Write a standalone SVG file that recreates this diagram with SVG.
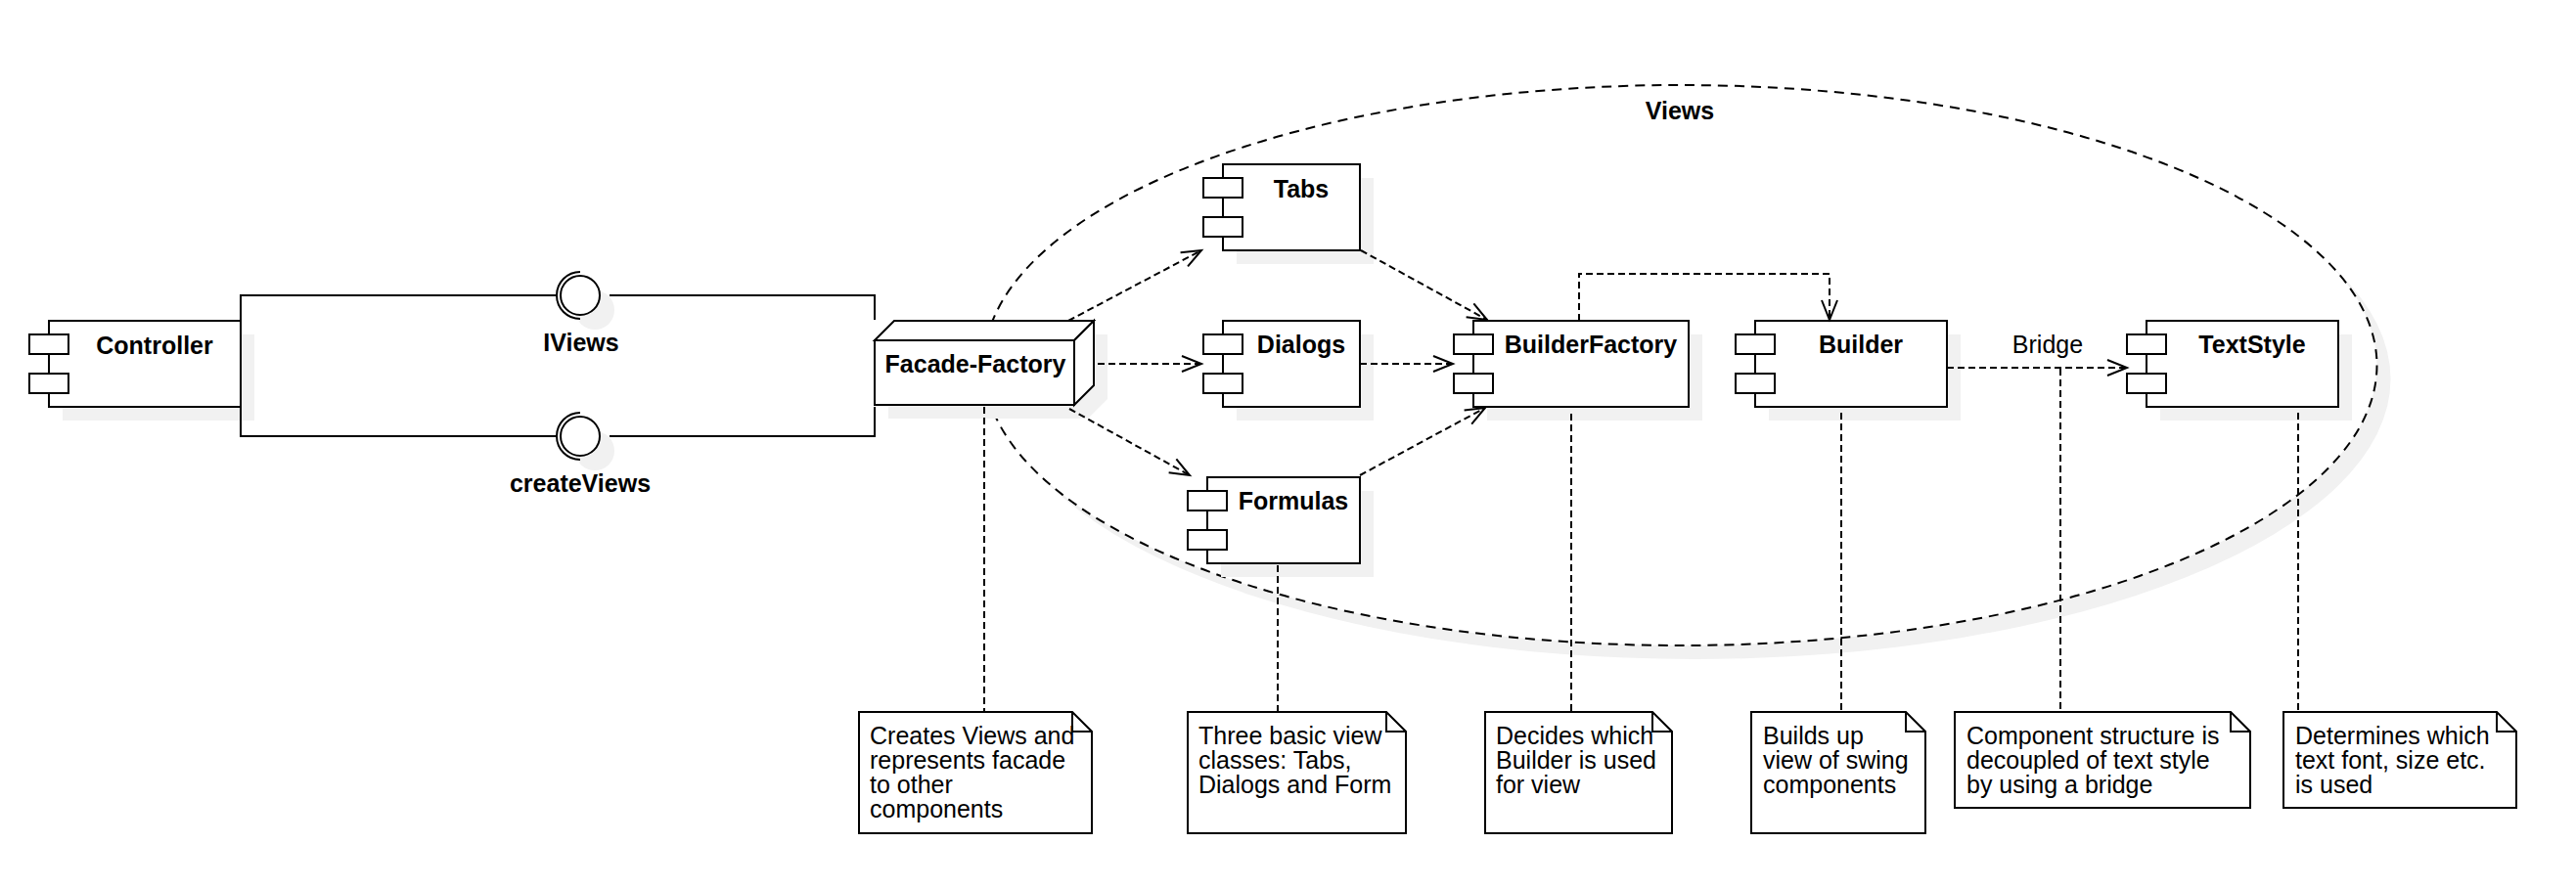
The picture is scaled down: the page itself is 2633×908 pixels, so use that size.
<svg xmlns="http://www.w3.org/2000/svg" width="2633" height="908" viewBox="0 0 2633 908">
<defs>
<style>
.ln{fill:none;stroke:#000;stroke-width:2}
.box{fill:#fff;stroke:#000;stroke-width:2}
.sh{fill:#f1f1f1;stroke:none}
.dash{fill:none;stroke:#000;stroke-width:2;stroke-dasharray:7 4}
.lbl{font-family:"Liberation Sans",Arial,sans-serif;font-size:25px;font-weight:bold;text-anchor:middle;fill:#000}
.txt{font-family:"Liberation Sans",Arial,sans-serif;font-size:25px;fill:#000}
</style>
<marker id="open" markerUnits="userSpaceOnUse" markerWidth="26" markerHeight="22" viewBox="-23 -11 26 22" refX="0" refY="0" orient="auto">
<path d="M-20,-8 L0,0 L-20,8" fill="none" stroke="#000" stroke-width="2" stroke-dasharray="none"/>
</marker>
</defs>
<rect x="0" y="0" width="2633" height="908" fill="#fff"/>

<g id="views">
<ellipse cx="1731.5" cy="387.5" rx="712" ry="286.5" fill="#f1f1f1"/>
<ellipse cx="1717.5" cy="373.5" rx="712" ry="286.5" fill="#fff" stroke="#000" stroke-width="2" stroke-dasharray="10 7"/>
<text class="lbl" x="1717" y="122">Views</text>
</g>

<g id="controller">
<rect class="sh" x="64" y="342" width="196" height="88"/>
<rect class="box" x="50" y="328" width="196" height="88"/>
<rect class="box" x="30" y="342" width="40" height="20"/>
<rect class="box" x="30" y="382" width="40" height="20"/>
<text class="lbl" x="158" y="362">Controller</text>
</g>

<g id="tabs">
<rect class="sh" x="1264" y="182" width="140" height="88"/>
<rect class="box" x="1250" y="168" width="140" height="88"/>
<rect class="box" x="1230" y="182" width="40" height="20"/>
<rect class="box" x="1230" y="222" width="40" height="20"/>
<text class="lbl" x="1330" y="202">Tabs</text>
</g>

<g id="dialogs">
<rect class="sh" x="1264" y="342" width="140" height="88"/>
<rect class="box" x="1250" y="328" width="140" height="88"/>
<rect class="box" x="1230" y="342" width="40" height="20"/>
<rect class="box" x="1230" y="382" width="40" height="20"/>
<text class="lbl" x="1330" y="361">Dialogs</text>
</g>

<g id="formulas">
<rect class="sh" x="1248" y="502" width="156" height="88"/>
<rect class="box" x="1234" y="488" width="156" height="88"/>
<rect class="box" x="1214" y="502" width="40" height="20"/>
<rect class="box" x="1214" y="542" width="40" height="20"/>
<text class="lbl" x="1322" y="521">Formulas</text>
</g>

<g id="builderfactory">
<rect class="sh" x="1520" y="342" width="220" height="88"/>
<rect class="box" x="1506" y="328" width="220" height="88"/>
<rect class="box" x="1486" y="342" width="40" height="20"/>
<rect class="box" x="1486" y="382" width="40" height="20"/>
<text class="lbl" x="1626" y="361">BuilderFactory</text>
</g>

<g id="builder">
<rect class="sh" x="1808" y="342" width="196" height="88"/>
<rect class="box" x="1794" y="328" width="196" height="88"/>
<rect class="box" x="1774" y="342" width="40" height="20"/>
<rect class="box" x="1774" y="382" width="40" height="20"/>
<text class="lbl" x="1902" y="361">Builder</text>
</g>

<g id="textstyle">
<rect class="sh" x="2208" y="342" width="196" height="88"/>
<rect class="box" x="2194" y="328" width="196" height="88"/>
<rect class="box" x="2174" y="342" width="40" height="20"/>
<rect class="box" x="2174" y="382" width="40" height="20"/>
<text class="lbl" x="2302" y="361">TextStyle</text>
</g>

<g id="facade-factory">
<polygon class="sh" points="908,362 928,342 1132,342 1132,408 1112,428 908,428"/>
<rect class="box" x="894" y="348" width="204" height="66"/>
<polygon class="box" points="894,348 914,328 1118,328 1098,348"/>
<polygon class="box" points="1098,348 1118,328 1118,394 1098,414"/>
<text class="lbl" x="997" y="381">Facade-Factory</text>
</g>

<g id="connectors">
<path class="ln" d="M246,328 V302 H569"/>
<path class="ln" d="M623,302 H894 V327"/>
<path class="ln" d="M246,416 V446 H569"/>
<path class="ln" d="M623,446 H894 V416"/>
<path class="dash" d="M1092,328 L1228,256" marker-end="url(#open)"/>
<path class="dash" d="M1122,372 L1228,372" marker-end="url(#open)"/>
<path class="dash" d="M1093,418 L1216,486" marker-end="url(#open)"/>
<path class="dash" d="M1391,256 L1520,327" marker-end="url(#open)"/>
<path class="dash" d="M1390,372 L1485,372" marker-end="url(#open)"/>
<path class="dash" d="M1390,486 L1518,417" marker-end="url(#open)"/>
<path class="dash" d="M1614,328 V280 H1870 V327" marker-end="url(#open)"/>
<path class="dash" d="M1990,376 H2174" marker-end="url(#open)"/>
<text class="txt" x="2093" y="361" text-anchor="middle">Bridge</text>
<path class="dash" d="M1006,416 V728"/>
<path class="dash" d="M1306,578 V728"/>
<path class="dash" d="M1606,423 V728"/>
<path class="dash" d="M1882,422 V728"/>
<path class="dash" d="M2106,377 V728"/>
<path class="dash" d="M2349,422 V728"/>
</g>

<g id="iviews">
<circle class="sh" cx="608" cy="317" r="20"/>
<circle class="box" cx="593" cy="302" r="20"/>
<path class="ln" d="M593,278 A24,24 0 0 0 593,326"/>
<text class="lbl" x="594" y="359">IViews</text>
</g>

<g id="createviews">
<circle class="sh" cx="608" cy="461" r="20"/>
<circle class="box" cx="593" cy="446" r="20"/>
<path class="ln" d="M593,422 A24,24 0 0 0 593,470"/>
<text class="lbl" x="593" y="503">createViews</text>
</g>

<g id="note-facade">
<path class="box" d="M878,728 H1096 L1116,748 V852 H878 Z"/>
<path class="ln" d="M1096,728 V748 H1116"/>
<text class="txt"><tspan x="889" y="761">Creates Views and</tspan><tspan x="889" y="786">represents facade</tspan><tspan x="889" y="811">to other</tspan><tspan x="889" y="836">components</tspan></text>
</g>

<g id="note-formulas">
<path class="box" d="M1214,728 H1417 L1437,748 V852 H1214 Z"/>
<path class="ln" d="M1417,728 V748 H1437"/>
<text class="txt"><tspan x="1225" y="761">Three basic view</tspan><tspan x="1225" y="786">classes: Tabs,</tspan><tspan x="1225" y="811">Dialogs and Form</tspan></text>
</g>

<g id="note-builderfactory">
<path class="box" d="M1518,728 H1689 L1709,748 V852 H1518 Z"/>
<path class="ln" d="M1689,728 V748 H1709"/>
<text class="txt"><tspan x="1529" y="761">Decides which</tspan><tspan x="1529" y="786">Builder is used</tspan><tspan x="1529" y="811">for view</tspan></text>
</g>

<g id="note-builder">
<path class="box" d="M1790,728 H1948 L1968,748 V852 H1790 Z"/>
<path class="ln" d="M1948,728 V748 H1968"/>
<text class="txt"><tspan x="1802" y="761">Builds up</tspan><tspan x="1802" y="786">view of swing</tspan><tspan x="1802" y="811">components</tspan></text>
</g>

<g id="note-bridge">
<path class="box" d="M1998,728 H2280 L2300,748 V826 H1998 Z"/>
<path class="ln" d="M2280,728 V748 H2300"/>
<text class="txt"><tspan x="2010" y="761">Component structure is</tspan><tspan x="2010" y="786">decoupled of text style</tspan><tspan x="2010" y="811">by using a bridge</tspan></text>
</g>

<g id="note-textstyle">
<path class="box" d="M2334,728 H2552 L2572,748 V826 H2334 Z"/>
<path class="ln" d="M2552,728 V748 H2572"/>
<text class="txt"><tspan x="2346" y="761">Determines which</tspan><tspan x="2346" y="786">text font, size etc.</tspan><tspan x="2346" y="811">is used</tspan></text>
</g>
</svg>
